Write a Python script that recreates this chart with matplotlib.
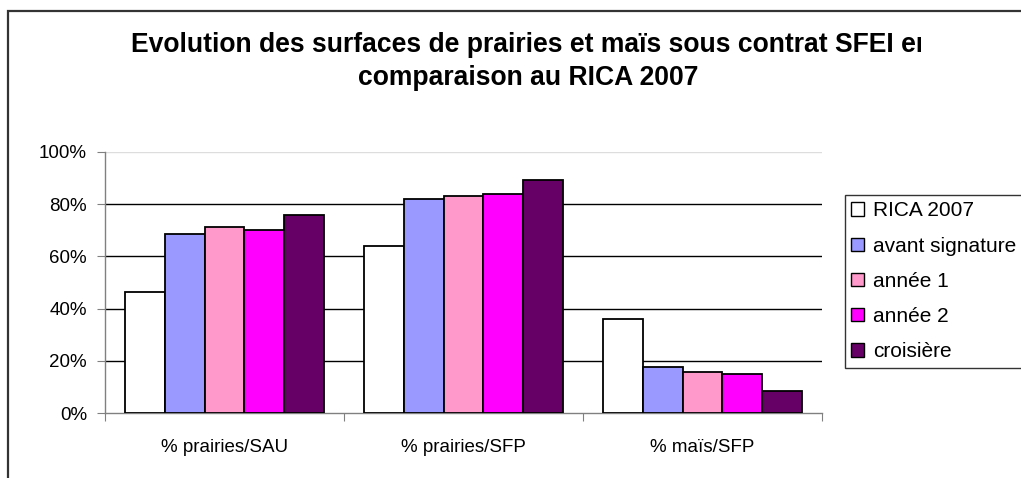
import matplotlib.pyplot as plt
import numpy as np
from matplotlib.patches import Patch, Rectangle
from matplotlib.transforms import Bbox

# =========================================================
# DATA
# =========================================================

categories = ["% prairies/SAU", "% prairies/SFP", "% maïs/SFP"]
series = ["RICA 2007", "avant signature", "année 1", "année 2", "croisière"]
colors = ["#FFFFFF", "#9999FF", "#FF99CC", "#FF00FF", "#660066"]

rica_2007 = [0.465, 0.639, 0.359]
avant_signature = [0.685, 0.819, 0.177]
annee_1 = [0.711, 0.831, 0.158]
annee_2 = [0.700, 0.839, 0.149]
croisiere = [0.759, 0.893, 0.084]

values = [rica_2007, avant_signature, annee_1, annee_2, croisiere]

yticks = [0, 0.2, 0.4, 0.6, 0.8, 1.0]
ytick_labels = ["0%", "20%", "40%", "60%", "80%", "100%"]

title_line1 = "Evolution des surfaces de prairies et maïs sous contrat SFEI en"
title_line2 = "comparaison au RICA 2007"

# =========================================================
# PLOT
# =========================================================

plt.rcParams["font.family"] = ["Liberation Sans", "DejaVu Sans"]

W, H = 1021, 478
fig = plt.figure(figsize=(W / 100, H / 100), dpi=100)

# outer chart frame (runs off the right and bottom edges)
fig.patches.append(Rectangle((8 / W, -0.1), 1.2, (H - 11) / H + 0.1,
                             transform=fig.transFigure, fill=False,
                             edgecolor="#333333", linewidth=1.6))

left, right, top, bottom = 105, 822, 152, 413
ax = fig.add_axes([left / W, 1 - bottom / H, (right - left) / W, (bottom - top) / H])

x = np.arange(len(categories))
bw = 1 / 6
for i, (name, vals) in enumerate(zip(series, values)):
    ax.bar(x + (i - 2) * bw, vals, width=bw, color=colors[i],
           edgecolor="black", linewidth=1.3, label=name, zorder=3)

ax.set_xlim(-0.5, 2.5)
ax.set_ylim(0, 1.0)

for y in yticks[1:-1]:
    ax.axhline(y, color="black", linewidth=1.0, zorder=1)
ax.axhline(1.0, color="#dddddd", linewidth=1.0, zorder=1)

for s in ["top", "right"]:
    ax.spines[s].set_visible(False)
for s in ["left", "bottom"]:
    ax.spines[s].set_color("#808080")
    ax.spines[s].set_linewidth(1.0)

ax.set_yticks(yticks)
ax.set_yticklabels(ytick_labels)
ax.tick_params(axis="y", direction="out", length=6, color="#808080",
               labelsize=13.5, pad=7)

ax.set_xticks([-0.5, 0.5, 1.5, 2.5])
ax.set_xticklabels([])
ax.set_xticks(x, minor=True)
ax.set_xticklabels(categories, minor=True)
ax.tick_params(axis="x", which="major", direction="out", length=6, color="#808080")
ax.tick_params(axis="x", which="minor", length=0, labelsize=13.5, pad=19)

# title, first line clipped on the right as in the original
t1 = fig.text(131 / W, 1 - 45 / H, title_line1, ha="left", va="center",
              fontsize=19.1, fontweight="bold")
t1.set_clip_box(Bbox.from_extents(0, 0, 921, H))
t1.set_clip_on(True)
fig.text(358 / W, 1 - 78 / H, title_line2, ha="left", va="center",
         fontsize=19.1, fontweight="bold")

handles = [Patch(facecolor=c, edgecolor="black", linewidth=1.0) for c in colors]
leg = fig.legend(handles, series, loc="upper left",
                 bbox_to_anchor=(845 / W, 1 - 195 / H),
                 fontsize=15, frameon=True, fancybox=False,
                 handlelength=0.6, handleheight=0.6, handletextpad=0.45,
                 labelspacing=0.78, borderpad=0.3, borderaxespad=0)
leg.get_frame().set_edgecolor("black")
leg.get_frame().set_linewidth(1.0)

fig.savefig("out.png", dpi=100)
